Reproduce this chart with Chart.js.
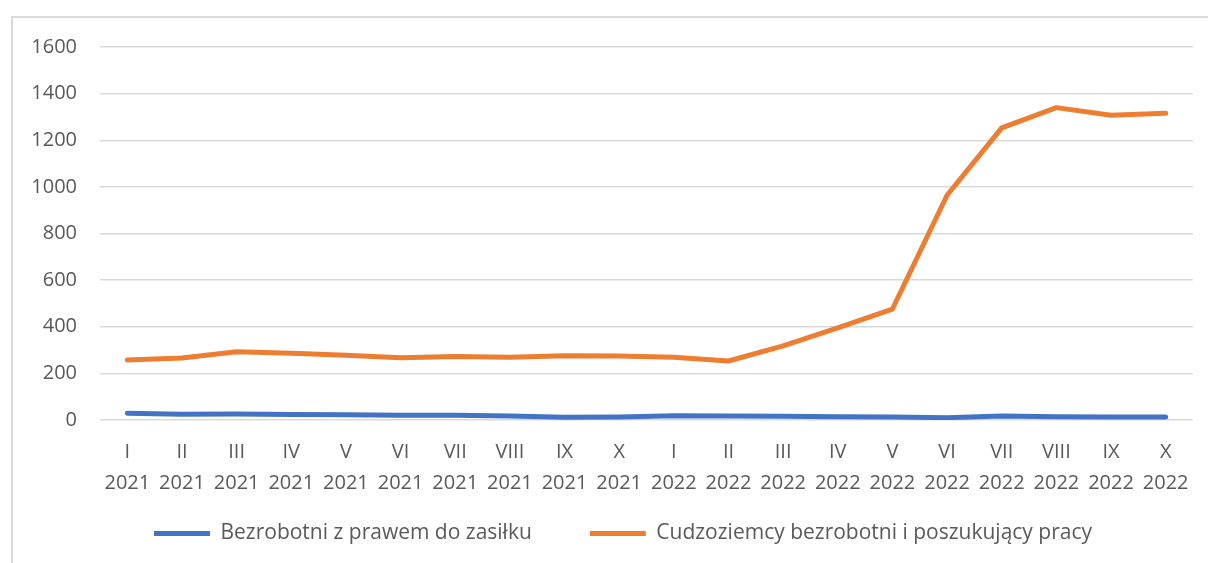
<!DOCTYPE html>
<html lang="pl">
<head>
<meta charset="utf-8">
<title>Bezrobotni cudzoziemcy 2021–2022</title>
<script src="https://cdn.jsdelivr.net/npm/chart.js@4/dist/chart.umd.min.js"></script>
<style>
  html, body { margin: 0; padding: 0; background: #ffffff; overflow: hidden; }
  #wrap { position: absolute; left: 0; top: 0; width: 1208px; height: 563px; }
  #frame {
    position: absolute; left: 11px; top: 16px; width: 1300px; height: 700px;
    border-left: 2px solid #d9d9d9; border-top: 2px solid #d9d9d9;
    z-index: 2; pointer-events: none;
  }
</style>
</head>
<body>
<div id="wrap"><canvas id="unemployedChart" width="1208" height="563"></canvas></div>
<div id="frame"></div>
<script>
const months = ['I', 'II', 'III', 'IV', 'V', 'VI', 'VII', 'VIII', 'IX', 'X',
                'I', 'II', 'III', 'IV', 'V', 'VI', 'VII', 'VIII', 'IX', 'X'];
const years = ['2021', '2021', '2021', '2021', '2021', '2021', '2021', '2021', '2021', '2021',
               '2022', '2022', '2022', '2022', '2022', '2022', '2022', '2022', '2022', '2022'];

const withBenefit = [29, 25, 26, 24, 22, 20, 20, 17, 12, 13,
                     18, 17, 16, 14, 13, 10, 17, 14, 13, 13];
const foreigners = [257, 266, 293, 286, 278, 267, 272, 269, 276, 274,
                    269, 253, 318, 395, 476, 964, 1253, 1340, 1307, 1316];

const yTicks = { min: 0, max: 1600, step: 200 };

const labels = months.map((m, i) => [m, years[i]]);

const textColor = '#595959';
const gridColor = '#d9d9d9';
const fontFamily = '"Open Sans", "Liberation Sans", sans-serif';
const tickFont = { family: fontFamily, size: 20, lineHeight: 1.55 };
const legendGap = 58;

// legend padding doubles as the vertical padding; keep the wide gap between
// items but give the row a compact height, and centre it under the frame
const legendRow = {
    id: 'legendRow',
    afterInit(chart) {
        const legend = chart.legend;
        const fit = legend.fit;
        legend.fit = function () {
            fit.call(this);
            this.height -= legendGap - 10;
        };
    },
    afterLayout(chart) {
        const legend = chart.legend;
        legend.top -= legendGap - 10;
        legend.left += 14;
        legend.right += 14;
    }
};

new Chart(document.getElementById('unemployedChart'), {
    type: 'line',
    data: {
        labels: labels,
        datasets: [{
            label: 'Bezrobotni z prawem do zasiłku',
            data: withBenefit,
            borderColor: '#4472C4',
            backgroundColor: '#4472C4',
            borderWidth: 5,
            borderCapStyle: 'round',
            borderJoinStyle: 'round',
            pointRadius: 0,
            tension: 0
        }, {
            label: 'Cudzoziemcy bezrobotni i poszukujący pracy',
            data: foreigners,
            borderColor: '#ED7D31',
            backgroundColor: '#ED7D31',
            borderWidth: 5,
            borderCapStyle: 'round',
            borderJoinStyle: 'round',
            pointRadius: 0,
            tension: 0
        }]
    },
    plugins: [legendRow],
    options: {
        responsive: false,
        animation: false,
        layout: {
            padding: { left: 25, right: 15, top: 47, bottom: 9 }
        },
        plugins: {
            tooltip: { enabled: false },
            legend: {
                position: 'bottom',
                labels: {
                    color: textColor,
                    font: { family: fontFamily, size: 21 },
                    usePointStyle: true,
                    pointStyle: 'line',
                    pointStyleWidth: 56,
                    padding: legendGap
                }
            }
        },
        scales: {
            x: {
                offset: true,
                grid: { display: false },
                border: { display: false },
                ticks: {
                    color: textColor,
                    font: tickFont,
                    padding: 9,
                    maxRotation: 0,
                    autoSkip: false
                },
                afterFit: axis => { axis.height = 93; }
            },
            y: {
                min: yTicks.min,
                max: yTicks.max,
                grid: { color: gridColor, lineWidth: 1.5, drawTicks: false },
                border: { display: false },
                ticks: {
                    stepSize: yTicks.step,
                    color: textColor,
                    font: tickFont,
                    padding: 23,
                    callback: value => String(value)
                },
                afterFit: axis => { axis.width = 75; }
            }
        }
    }
});
</script>
</body>
</html>
